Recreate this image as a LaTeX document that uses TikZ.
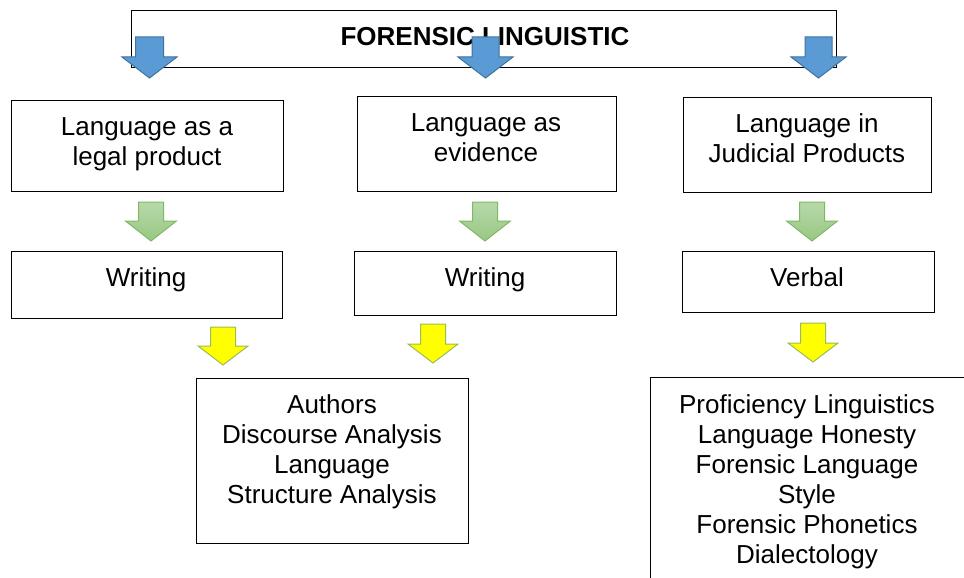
\documentclass[tikz,border=0pt]{standalone}
\usepackage{fontspec}
\setmainfont{Liberation Sans}
\definecolor{arrblue}{HTML}{5B9BD5}
\definecolor{arrblueedge}{HTML}{41719C}
\definecolor{grtop}{HTML}{B7D9AA}
\definecolor{grbot}{HTML}{98C783}
\definecolor{gredge}{HTML}{7FB964}
\definecolor{yellowfill}{HTML}{FFFF00}
\definecolor{yellowedge}{HTML}{9BBB59}
\tikzset{
  box/.style={draw=black, line width=1.1pt, inner sep=0pt, anchor=north west},
  txt/.style={font=\fontsize{26}{30}\selectfont, align=center, inner sep=0pt, anchor=base},
  ttl/.style={font=\fontsize{26}{30}\selectfont\bfseries, inner sep=0pt, anchor=base},
  bluearr/.style={fill=arrblue, draw=arrblueedge, line width=1pt},
  greenarr/.style={top color=grtop, bottom color=grbot, draw=gredge, line width=1pt},
  yellowarr/.style={fill=yellowfill, draw=yellowedge, line width=1pt}
}
% cx, shaft half, head half, ytop, yhead, ytip, style
\newcommand{\downarr}[7]{%
  \path[#7] (#1-#2,#4) -- (#1+#2,#4) -- (#1+#2,#5) -- (#1+#3,#5) -- (#1,#6)
    -- (#1-#3,#5) -- (#1-#2,#5) -- cycle;}
\begin{document}
\begin{tikzpicture}[x=1pt, y=-1pt]
\useasboundingbox (0,0) rectangle (964,578);
\clip (0,0) rectangle (964,578);

% title
\node[box, minimum width=705pt, minimum height=57pt] (title) at (131,10) {};
\node[ttl] (titletxt) at (485,46) {FORENSIC LINGUISTIC};

% first row (anchor base = baseline of last line)
\node[box, minimum width=272pt, minimum height=91pt] (A) at (11,100) {};
\node[txt] (At) at (147,165) {Language as a\\legal product};
\node[box, minimum width=259pt, minimum height=95pt] (B) at (357,96) {};
\node[txt] (Bt) at (486,161) {Language as\\evidence};
\node[box, minimum width=248pt, minimum height=95pt] (C) at (683,97) {};
\node[txt] (Ct) at (807,162) {Language in\\Judicial Products};

% second row
\node[box, minimum width=271pt, minimum height=67pt] (D) at (11,251) {};
\node[txt] (Dt) at (146,286) {Writing};
\node[box, minimum width=262pt, minimum height=64pt] (E) at (354,251) {};
\node[txt] (Et) at (485,286) {Writing};
\node[box, minimum width=252pt, minimum height=61pt] (F) at (682,251) {};
\node[txt] (Ft) at (807,286) {Verbal};

% third row
\node[box, minimum width=272pt, minimum height=165pt] (G) at (196,378) {};
\node[txt] (Gt) at (332,503) {Authors\\Discourse Analysis\\Language\\Structure Analysis};
\node[box, minimum width=314.6pt, minimum height=240pt] (H) at (650,377) {};
\node[txt] (Ht) at (807,563) {Proficiency Linguistics\\Language Honesty\\Forensic Language\\Style\\Forensic Phonetics\\Dialectology};

% blue arrows
\downarr{149.5}{14}{27.5}{37}{57}{78}{bluearr}
\downarr{485.5}{13.5}{27.5}{37}{57}{78}{bluearr}
\downarr{818.5}{13.5}{27.5}{37}{57}{78}{bluearr}

% green arrows
\downarr{151}{12.5}{25.5}{202}{221}{241}{greenarr}
\downarr{485}{12.5}{25.5}{202}{221}{241}{greenarr}
\downarr{812}{12.5}{25.5}{202}{221}{241}{greenarr}

% yellow arrows
\downarr{223}{12.5}{25}{327}{346}{365}{yellowarr}
\downarr{433}{12.5}{25}{324}{344}{363}{yellowarr}
\downarr{813}{12.5}{25}{323}{343}{362}{yellowarr}
\end{tikzpicture}
\end{document}
